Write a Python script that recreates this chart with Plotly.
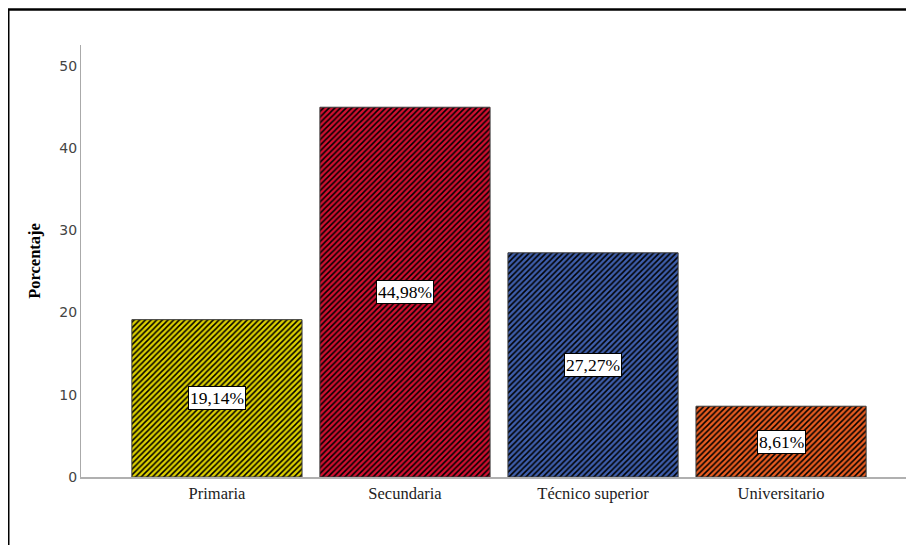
import plotly.graph_objects as go

categorias = ["Primaria", "Secundaria", "Técnico superior", "Universitario"]
porcentajes = [19.14, 44.98, 27.27, 8.61]
etiquetas = ["19,14%", "44,98%", "27,27%", "8,61%"]
colores = ["#dcd000", "#d01030", "#3e5eab", "#e85c20"]
y_ticks = [0, 10, 20, 30, 40, 50]

x_pos = list(range(len(categorias)))

fig = go.Figure()
# one trace per bar so each keeps its own hatch colours
for xi, v, col in zip(x_pos, porcentajes, colores):
    fig.add_trace(go.Bar(
        x=[xi], y=[v], width=0.905,
        marker=dict(
            color=col,
            line=dict(color="#3a3a3a", width=1),
            pattern=dict(shape="/", fgcolor="black", bgcolor=col, fgopacity=1,
                         size=4, solidity=0.38, fillmode="overlay"),
        ),
        hoverinfo="skip",
    ))

# data labels in white boxes at the middle of each bar
for xi, v, txt in zip(x_pos, porcentajes, etiquetas):
    fig.add_annotation(
        x=xi, y=v / 2, text=txt, showarrow=False,
        font=dict(family="Liberation Serif", size=17.5, color="black"),
        bgcolor="white", bordercolor="black", borderwidth=1, borderpad=1,
    )

# outer frame (top and left edges visible)
pw, ph = 833, 432
fig.add_shape(type="line", xref="paper", yref="paper",
              x0=-72.5 / pw, x1=-72.5 / pw, y0=-0.3, y1=(ph + 36) / ph,
              line=dict(color="black", width=2))
fig.add_shape(type="line", xref="paper", yref="paper",
              x0=-73 / pw, x1=1.05, y0=(ph + 35.5) / ph, y1=(ph + 35.5) / ph,
              line=dict(color="black", width=2.5))

fig.update_layout(
    width=914, height=545,
    margin=dict(l=73, r=8, t=37, b=76),
    plot_bgcolor="white",
    paper_bgcolor="white",
    showlegend=False,
    barmode="overlay",
    xaxis=dict(
        range=[-0.723, 3.707],
        tickvals=x_pos,
        ticktext=categorias,
        showgrid=False, zeroline=False,
        showline=True, linecolor="#b0b0b0", linewidth=2,
        ticks="", ticklen=0,
        tickfont=dict(family="Liberation Serif", size=16.5, color="#222"),
    ),
    yaxis=dict(
        range=[0, 52.55],
        tickvals=y_ticks,
        showgrid=False, zeroline=False,
        showline=True, linecolor="#aaaaaa", linewidth=1,
        ticks="",
        tickfont=dict(family="DejaVu Sans", size=14, color="#444"),
        title=dict(text="<b>Porcentaje</b>",
                   font=dict(family="Liberation Serif", size=16.5, color="black"),
                   standoff=14),
    ),
)

fig.write_html("out.html")
